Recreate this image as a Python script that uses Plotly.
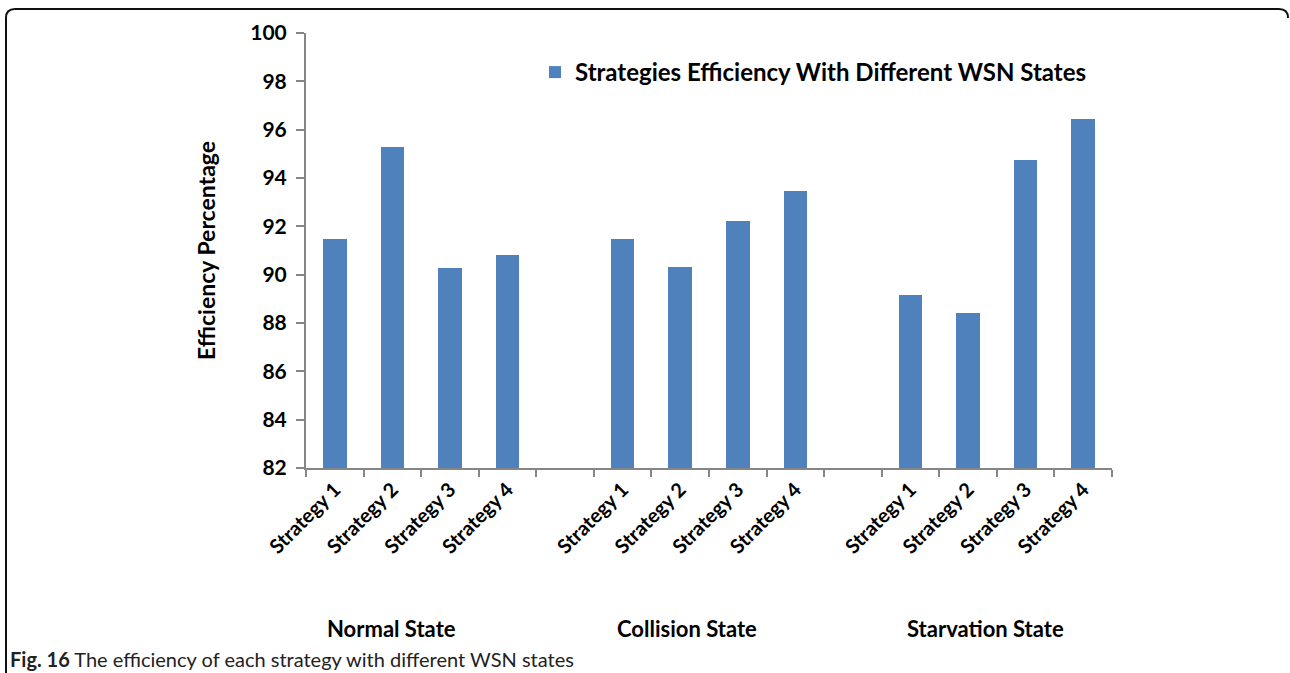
import plotly.graph_objects as go

# ---- data ----
strategies = ["Strategy 1", "Strategy 2", "Strategy 3", "Strategy 4"]
states = ["Normal State", "Collision State", "Starvation State"]
normal = [91.48, 95.28, 90.28, 90.80]
collision = [91.48, 90.32, 92.23, 93.45]
starvation = [89.17, 88.43, 94.75, 96.45]
series_name = "Strategies Efficiency With Different WSN States"
y_ticks = [82, 84, 86, 88, 90, 92, 94, 96, 98, 100]

# slot positions: 4 bars, empty slot, 4 bars, empty slot, 4 bars
positions = [0, 1, 2, 3, 5, 6, 7, 8, 10, 11, 12, 13]
values = normal + collision + starvation
labels = strategies * 3

BLUE = "#4F81BD"
AXIS = "#868686"
FONT = "Lato"

fig = go.Figure()
fig.add_trace(go.Bar(
    x=positions, y=values, name=series_name,
    marker=dict(color=BLUE, line=dict(width=0)),
    width=0.41, showlegend=True,
))

# plot area geometry (px)
L, R, T, B = 306, 1112, 33, 468
W, H = 1290, 673

def px_x(p):
    return (p - L) / (R - L)

def px_y(p):
    return (B - p) / (B - T)

fig.update_layout(
    width=W, height=H,
    margin=dict(l=L, r=W - R, t=T, b=H - B),
    paper_bgcolor="white", plot_bgcolor="white",
    font=dict(family=FONT, color="#000000"),
    showlegend=True,
    legend=dict(
        x=px_x(535), y=px_y(50), xanchor="left", yanchor="top",
        font=dict(family=FONT, size=24, weight=700, color="#000"),
        bgcolor="rgba(0,0,0,0)", itemsizing="constant",
        itemwidth=30,
    ),
    bargap=0,
)

fig.update_xaxes(
    range=[-0.5, 13.5],
    tickmode="array", tickvals=positions, ticktext=labels,
    tickangle=-45, ticks="", ticklen=0,
    tickfont=dict(family=FONT, size=20, weight=700, color="#000"),
    showline=True, linecolor=AXIS, linewidth=2,
    showgrid=False, zeroline=False,
    minor=dict(tick0=-0.5, dtick=1, ticks="outside", ticklen=7,
               tickcolor=AXIS, tickwidth=2, showgrid=False),
)
fig.update_yaxes(
    range=[82, 100], tickmode="array", tickvals=y_ticks,
    ticks="outside", ticklen=8, tickcolor=AXIS, tickwidth=2,
    ticklabelstandoff=5,
    tickfont=dict(family=FONT, size=21, weight=700, color="#000"),
    showline=True, linecolor=AXIS, linewidth=2,
    showgrid=False, zeroline=False,
    title=dict(text="Efficiency Percentage", standoff=28,
               font=dict(family=FONT, size=23, weight=700, color="#000")),
)

# group labels
group_px = [391, 687, 985]
for name, gx in zip(states, group_px):
    fig.add_annotation(
        x=px_x(gx), y=px_y(628), xref="paper", yref="paper",
        text=name, showarrow=False, xanchor="center", yanchor="middle",
        font=dict(family=FONT, size=22, weight=700, color="#000"),
    )

# caption
fig.add_annotation(
    x=px_x(8), y=px_y(659), xref="paper", yref="paper",
    text="<b>Fig. 16</b> The efficiency of each strategy with different WSN states",
    showarrow=False, xanchor="left", yanchor="middle",
    font=dict(family=FONT, size=20, color="#222"),
)

# frame with rounded corners
x0, y0, x1, y1 = 6, 9, 1288, 673
r = 9
path = (f"M {px_x(x0)} {px_y(y1)} L {px_x(x0)} {px_y(y0 + r)} "
        f"Q {px_x(x0)} {px_y(y0)} {px_x(x0 + r)} {px_y(y0)} "
        f"L {px_x(x1 - r)} {px_y(y0)} "
        f"Q {px_x(x1)} {px_y(y0)} {px_x(x1)} {px_y(y0 + r)}")
fig.add_shape(type="path", path=path, xref="paper", yref="paper",
              line=dict(color="#111", width=2))

fig.write_html("out.html")
